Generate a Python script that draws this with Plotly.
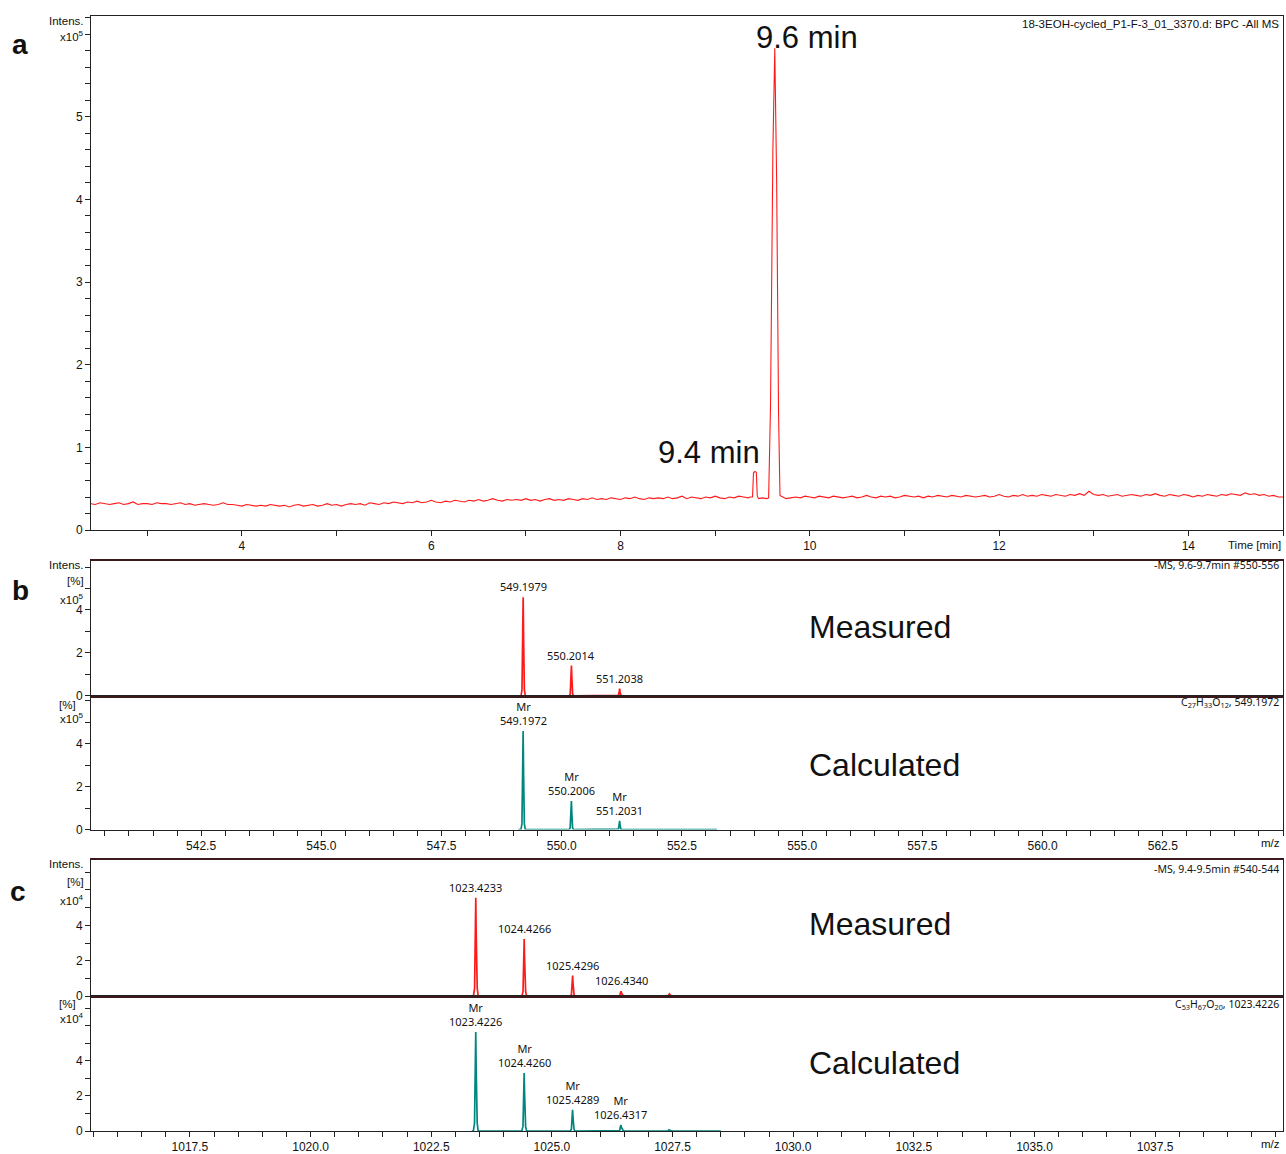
import numpy as np
import plotly.graph_objects as go

W, H = 1286, 1154
# vertical extent used for placing panels in paper space
H_MAP = 1144.0

# ---------------- data ----------------
# base peak chromatogram, 0.05 min steps starting at 2.40 min (x10^5 counts)
bpc_start = 2.40
bpc_step = 0.05
bpc_baseline = [
    0.32, 0.31, 0.33, 0.32, 0.31, 0.32, 0.33, 0.31, 0.32, 0.34, 0.31, 0.32, 0.32, 0.31, 0.33, 0.32, 0.32, 0.31, 0.32, 0.33,
    0.31, 0.32, 0.30, 0.31, 0.32, 0.31, 0.30, 0.31, 0.33, 0.31, 0.31, 0.30, 0.29, 0.31, 0.30, 0.29, 0.30, 0.29, 0.31, 0.30,
    0.29, 0.30, 0.28, 0.30, 0.31, 0.29, 0.30, 0.31, 0.29, 0.30, 0.32, 0.30, 0.31, 0.29, 0.31, 0.32, 0.31, 0.32, 0.30, 0.33,
    0.32, 0.31, 0.33, 0.32, 0.34, 0.33, 0.32, 0.34, 0.33, 0.35, 0.33, 0.34, 0.36, 0.34, 0.33, 0.35, 0.34, 0.36, 0.35, 0.34,
    0.36, 0.35, 0.37, 0.35, 0.36, 0.38, 0.36, 0.35, 0.37, 0.36, 0.37, 0.36, 0.38, 0.36, 0.37, 0.35, 0.37, 0.38, 0.36, 0.37,
    0.36, 0.38, 0.37, 0.36, 0.38, 0.37, 0.39, 0.37, 0.38, 0.37, 0.39, 0.38, 0.37, 0.39, 0.38, 0.40, 0.38, 0.37, 0.39, 0.38,
    0.39, 0.38, 0.40, 0.38, 0.39, 0.41, 0.38, 0.40, 0.39, 0.38, 0.40, 0.39, 0.41, 0.39, 0.38, 0.40, 0.39, 0.41, 0.40, 0.39,
    0.40, 0.39, 0.40, 0.39, 0.38, 0.39, 0.39, 0.38, 0.39, 0.40, 0.39, 0.41, 0.40, 0.39, 0.41, 0.40, 0.39, 0.41, 0.40, 0.39,
    0.40, 0.41, 0.39, 0.40, 0.42, 0.40, 0.39, 0.41, 0.40, 0.41, 0.39, 0.40, 0.42, 0.41, 0.40, 0.41, 0.39, 0.41, 0.40, 0.42,
    0.41, 0.40, 0.42, 0.41, 0.40, 0.42, 0.41, 0.40, 0.41, 0.42, 0.40, 0.41, 0.43, 0.41, 0.40, 0.42, 0.41, 0.43, 0.41, 0.42,
    0.41, 0.43, 0.42, 0.41, 0.43, 0.42, 0.41, 0.43, 0.42, 0.44, 0.42, 0.47, 0.43, 0.42, 0.43, 0.41, 0.42, 0.43, 0.41, 0.42,
    0.43, 0.42, 0.41, 0.43, 0.42, 0.44, 0.42, 0.41, 0.43, 0.42, 0.41, 0.43, 0.42, 0.40, 0.42, 0.41, 0.43, 0.42, 0.41, 0.43,
    0.42, 0.44, 0.43, 0.42, 0.45, 0.43, 0.44, 0.42, 0.43, 0.41, 0.42, 0.40, 0.40,
]
# detailed points across the two eluting peaks (9.4 and 9.6 min)
peak_rt = [9.37, 9.395, 9.405, 9.42, 9.435, 9.445, 9.46, 9.50, 9.545, 9.565,
           9.585, 9.61, 9.63, 9.65, 9.67, 9.685, 9.70, 9.72]
peak_int = [0.40, 0.40, 0.69, 0.71, 0.70, 0.41, 0.38, 0.39, 0.38, 0.39,
            1.50, 4.60, 5.83, 4.20, 1.40, 0.42, 0.41, 0.40]
peak_names = ["9.4 min", "9.6 min"]

# isotope patterns (intensity in units of the axis multiplier)
b_meas_mz = [549.1979, 550.2014, 551.2038]
b_meas_int = [4.59, 1.41, 0.33]
b_calc_mz = [549.1972, 550.2006, 551.2031]
b_calc_int = [4.59, 1.33, 0.40]
b_calc_span = [549.10, 553.23]

c_meas_mz = [1023.4233, 1024.4266, 1025.4296, 1026.4340, 1027.437]
c_meas_int = [5.56, 3.23, 1.17, 0.28, 0.13]
c_calc_mz = [1023.4226, 1024.4260, 1025.4289, 1026.4317, 1027.434]
c_calc_int = [5.63, 3.30, 1.21, 0.34, 0.08]
c_calc_span = [1023.34, 1028.50]
c_labelled = 4

b_range = [540.21, 565.0]
c_range = [1015.45, 1040.15]

RED = "#ff1a1a"
TEAL = "#00857f"
AX = "#222222"


def px(x):
    return x / W


def py(y):
    return 1 - y / H_MAP


# ---------------- chromatogram assembly ----------------
base = np.array(bpc_baseline)
rt = bpc_start + bpc_step * np.arange(len(base))
keep = (rt < peak_rt[0]) | (rt > peak_rt[-1])
t_all = np.concatenate([rt[keep], peak_rt])
i_all = np.concatenate([base[keep], peak_int])
order = np.argsort(t_all)
t_all, i_all = t_all[order], i_all[order]


def profile(mzs, ints, offsets, fracs, span):
    xs, ys = [span[0]], [0.0]
    for m, h in sorted(zip(mzs, ints)):
        for o, f in zip(offsets, fracs):
            xs.append(m + o)
            ys.append(h * f)
    xs.append(span[1])
    ys.append(0.0)
    return xs, ys


narrow_off = [-0.045, -0.025, -0.010, 0.0, 0.010, 0.025, 0.045]
narrow_frac = [0.0, 0.06, 0.55, 1.0, 0.55, 0.06, 0.0]
wide_off = [-0.05, -0.025, -0.012, 0.0, 0.008, 0.016, 0.03, 0.05]
wide_frac = [0.0, 0.08, 0.75, 1.0, 0.65, 0.5, 0.08, 0.0]

bmx, bmy = profile(b_meas_mz, b_meas_int, narrow_off, narrow_frac, b_range)
bcx, bcy = profile(b_calc_mz, b_calc_int, narrow_off, narrow_frac, b_calc_span)
cmx, cmy = profile(c_meas_mz, c_meas_int, wide_off, wide_frac, c_range)
ccx, ccy = profile(c_calc_mz, c_calc_int, wide_off, wide_frac, c_calc_span)

fig = go.Figure()
fig.add_trace(go.Scatter(x=t_all, y=i_all, mode="lines", line=dict(color=RED, width=1.1),
                         xaxis="x", yaxis="y", hoverinfo="skip"))
fig.add_trace(go.Scatter(x=bmx, y=bmy, mode="lines", line=dict(color=RED, width=1.7),
                         xaxis="x2", yaxis="y2", hoverinfo="skip"))
fig.add_trace(go.Scatter(x=bcx, y=bcy, mode="lines", line=dict(color=TEAL, width=1.7),
                         xaxis="x3", yaxis="y3", hoverinfo="skip"))
fig.add_trace(go.Scatter(x=cmx, y=cmy, mode="lines", line=dict(color=RED, width=1.7),
                         xaxis="x4", yaxis="y4", hoverinfo="skip"))
fig.add_trace(go.Scatter(x=ccx, y=ccy, mode="lines", line=dict(color=TEAL, width=1.7),
                         xaxis="x5", yaxis="y5", hoverinfo="skip"))

XDOM = [px(91), px(1283)]
TICKFONT = dict(family="Liberation Sans, Arial, sans-serif", size=12, color="#111")


def xaxis(anchor, rng, tick0, dtick, mtick0, mdtick, labels, fmt=None, line_w=1, line_c=AX):
    d = dict(domain=XDOM, anchor=anchor, range=rng, showline=True, linecolor=line_c,
             linewidth=line_w, mirror=True, showgrid=False, zeroline=False, fixedrange=True)
    if labels:
        d.update(tickmode="linear", tick0=tick0, dtick=dtick, ticks="outside", ticklen=5,
                 tickwidth=1, tickcolor=AX, tickfont=TICKFONT,
                 minor=dict(ticks="outside", ticklen=5, tickwidth=1, tickcolor=AX,
                            tick0=mtick0, dtick=mdtick))
        if fmt:
            d["tickformat"] = fmt
    else:
        d.update(showticklabels=False, ticks="")
    return d


def yaxis(anchor, dom, rng, tickvals, ticktext, minor_dtick):
    return dict(domain=dom, anchor=anchor, range=rng, showline=True, linecolor=AX,
                linewidth=1, mirror=True, showgrid=False, zeroline=False, fixedrange=True,
                tickmode="array", tickvals=tickvals, ticktext=ticktext, ticks="outside",
                ticklen=5, tickwidth=1, tickcolor=AX, tickfont=TICKFONT,
                minor=dict(ticks="outside", ticklen=5, tickwidth=1, tickcolor=AX,
                           tick0=0, dtick=minor_dtick))


fig.update_layout(
    width=W, height=H, margin=dict(l=0, r=0, t=0, b=0),
    paper_bgcolor="white", plot_bgcolor="white", showlegend=False,
    font=dict(family="Liberation Sans, Arial, sans-serif", color="#111"),
    xaxis=xaxis("y", [2.405, 15.0], 4, 2, 3, 1, True),
    yaxis=yaxis("x", [py(531), py(16)], [0, 6.22], [0, 1, 2, 3, 4, 5],
                ["0", "1", "2", "3", "4", "5"], 0.2),
    xaxis2=xaxis("y2", b_range, 0, 1, 0, 1, False, line_w=2.2, line_c="#3a1a1a"),
    yaxis2=yaxis("x2", [py(697), py(562)], [0, 6.28], [0, 2, 4], ["0", "2", "4"], 1),
    xaxis3=xaxis("y3", b_range, 542.5, 2.5, 540.5, 0.5, True, fmt=".1f"),
    yaxis3=yaxis("x3", [py(831), py(697)], [0, 6.23], [0, 2, 4], ["0", "2", "4"], 1),
    xaxis4=xaxis("y4", c_range, 0, 1, 0, 1, False, line_w=2.2, line_c="#3a1a1a"),
    yaxis4=yaxis("x4", [py(998), py(862)], [0, 7.66], [0, 2, 4], ["0", "2", "4"], 1),
    xaxis5=xaxis("y5", c_range, 1017.5, 2.5, 1015.5, 0.5, True, fmt=".1f"),
    yaxis5=yaxis("x5", [py(1133), py(998)], [0, 7.67], [0, 2, 4], ["0", "2", "4"], 1),
)

ann = []


def paper_text(text, x, y, size, xanchor="center", family="Liberation Sans, Arial, sans-serif",
               bold=False, color="#111"):
    if bold:
        text = "<b>" + text + "</b>"
    ann.append(dict(text=text, x=px(x), y=py(y), xref="paper", yref="paper",
                    xanchor=xanchor, yanchor="middle", showarrow=False,
                    font=dict(family=family, size=size, color=color)))


# panel letters
paper_text("a", 20, 45, 28, bold=True)
paper_text("b", 20, 592, 28, bold=True)
paper_text("c", 18, 893, 28, bold=True)

# axis unit captions
small = 11.5
paper_text("Intens.", 86, 21, small, "right")
paper_text("x10<sup>5</sup>", 86, 36, small, "right")
paper_text("Intens.", 86, 566, small, "right")
paper_text("[%]", 86, 582, small, "right")
paper_text("x10<sup>5</sup>", 86, 600, small, "right")
paper_text("[%]", 78, 706, small, "right")
paper_text("x10<sup>5</sup>", 86, 719, small, "right")
paper_text("Intens.", 86, 866, small, "right")
paper_text("[%]", 86, 884, small, "right")
paper_text("x10<sup>4</sup>", 86, 902, small, "right")
paper_text("[%]", 78, 1006, small, "right")
paper_text("x10<sup>4</sup>", 86, 1020, small, "right")

# x-axis captions
paper_text("Time [min]", 1283, 546, 11.5, "right")
paper_text("m/z", 1282, 844, 11.5, "right")
paper_text("m/z", 1282, 1146, 11.5, "right")

# trace descriptions
paper_text("18-3EOH-cycled_P1-F-3_01_3370.d: BPC -All MS", 1281, 24, 11.5, "right")
NOTO = "Noto Sans, Open Sans, sans-serif"
paper_text("-MS, 9.6-9.7min #550-556", 1281, 566, 10.5, "right", family=NOTO)
paper_text("C<sub>27</sub>H<sub>33</sub>O<sub>12</sub>, 549.1972", 1281, 704, 10.5, "right", family=NOTO)
paper_text("-MS, 9.4-9.5min #540-544", 1281, 871, 10.5, "right", family=NOTO)
paper_text("C<sub>53</sub>H<sub>67</sub>O<sub>20</sub>, 1023.4226", 1281, 1006, 10.5, "right", family=NOTO)

# retention-time labels
paper_text(peak_names[1], 807, 38, 31)
paper_text(peak_names[0], 709, 453, 31)

# spectrum headings
for y in (628, 926):
    paper_text("Measured", 807, y, 32, "left")
for y in (766, 1065):
    paper_text("Calculated", 807, y, 32, "left")


def peak_labels(mzs, ints, n, xr, yr, prefix=""):
    for m, h in list(zip(mzs, ints))[:n]:
        ann.append(dict(text=prefix + f"{m:.4f}", x=m, y=h, xref=xr, yref=yr,
                        xanchor="center", yanchor="bottom", yshift=1, showarrow=False,
                        font=dict(family=NOTO, size=11, color="#111")))


peak_labels(b_meas_mz, b_meas_int, 3, "x2", "y2")
peak_labels(b_calc_mz, b_calc_int, 3, "x3", "y3", "Mr<br>")
peak_labels(c_meas_mz, c_meas_int, c_labelled, "x4", "y4")
peak_labels(c_calc_mz, c_calc_int, c_labelled, "x5", "y5", "Mr<br>")

fig.update_layout(annotations=ann)
fig.write_html("out.html")
